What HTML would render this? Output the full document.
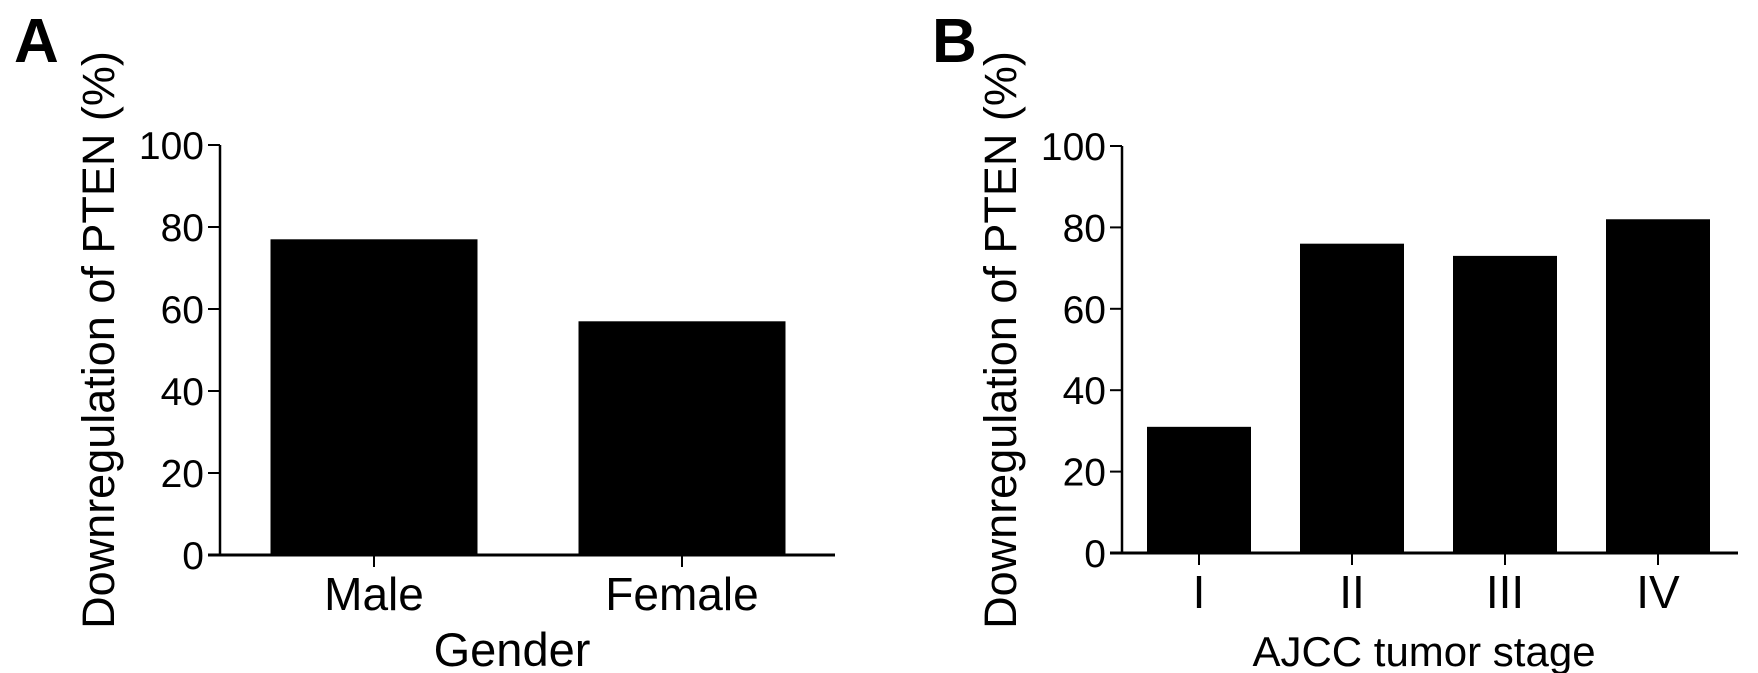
<!DOCTYPE html>
<html><head><meta charset="utf-8"><style>
html,body{margin:0;padding:0;background:#fff;}
svg{display:block;font-family:"Liberation Sans",Arial,sans-serif;}
</style></head><body>
<svg id="fig" width="1758" height="673" viewBox="0 0 1758 673" xmlns="http://www.w3.org/2000/svg">
<text x="14" y="62" font-size="62" font-weight="bold">A</text>
<text x="932" y="62" font-size="62" font-weight="bold">B</text>
<g id="pa"></g>
<g id="pb"></g>
</svg>
<script>
const catsA = ["Male", "Female"];
const valsA = [77, 57];
const catsB = ["I", "II", "III", "IV"];
const valsB = [31, 76, 73, 82];
const yTicks = [0, 20, 40, 60, 80, 100];
const NS = "http://www.w3.org/2000/svg";
function mk(parent, tag, attrs, text){
  const e = document.createElementNS(NS, tag);
  for (const k in attrs) e.setAttribute(k, attrs[k]);
  if (text !== undefined) e.textContent = text;
  parent.appendChild(e);
  return e;
}
function drawPanel(g, cfg, cats, vals, title){
  const y = v => cfg.y0 - (v / 100) * (cfg.y0 - cfg.y100);
  const x = i => cfg.firstCenter + i * cfg.step;
  cats.forEach((c, i) => {
    const r = mk(g, "rect", {x: x(i) - cfg.bw / 2, y: y(vals[i]), width: cfg.bw, height: cfg.y0 - y(vals[i]), fill: "#000"});
    
    
    const t = mk(g, "line", {x1: x(i), x2: x(i), y1: cfg.y0, y2: cfg.y0 + 12, stroke: "#000", "stroke-width": 2});
    
    
    const l = mk(g, "text", {x: x(i), y: cfg.y0 + 55, "font-size": 46, "text-anchor": "middle"}, c);
    
    
  });
  const ya = mk(g, "line", {x1: cfg.ax, x2: cfg.ax, y1: cfg.y100, y2: cfg.y0, stroke: "#000", "stroke-width": 2.5});
  
  
  const xa = mk(g, "line", {x1: cfg.xl, x2: cfg.xr, y1: cfg.y0, y2: cfg.y0, stroke: "#000", "stroke-width": 3});
  
  
  yTicks.forEach(v => {
    const t = mk(g, "line", {x1: cfg.ax - 12, x2: cfg.ax, y1: y(v), y2: y(v), stroke: "#000", "stroke-width": 2});
    
    
    const l = mk(g, "text", {x: cfg.ax - 16, y: y(v) + 14, "font-size": 39, "text-anchor": "end"}, String(v));
    
    
  });
  const yt = mk(g, "text", {x: 0, y: 0, "font-size": 45, "text-anchor": "middle", transform: "translate(" + cfg.ytx + ",340) rotate(-90)"}, "Downregulation of PTEN (%)");
  
  
  const xt = mk(g, "text", {x: cfg.xtx, y: 666, "font-size": cfg.xtf, "text-anchor": "middle"}, title);
  
  
}
drawPanel(document.getElementById("pa"),
  {ax: 220, y0: 555, y100: 145, firstCenter: 374, step: 308, bw: 207, xl: 208, xr: 835, ytx: 114, xtx: 512, xtf: 47},
  catsA, valsA, "Gender");
drawPanel(document.getElementById("pb"),
  {ax: 1122, y0: 553, y100: 146, firstCenter: 1199, step: 153, bw: 104, xl: 1110, xr: 1738, ytx: 1016, xtx: 1424, xtf: 42},
  catsB, valsB, "AJCC tumor stage");
</script>
</body></html>
